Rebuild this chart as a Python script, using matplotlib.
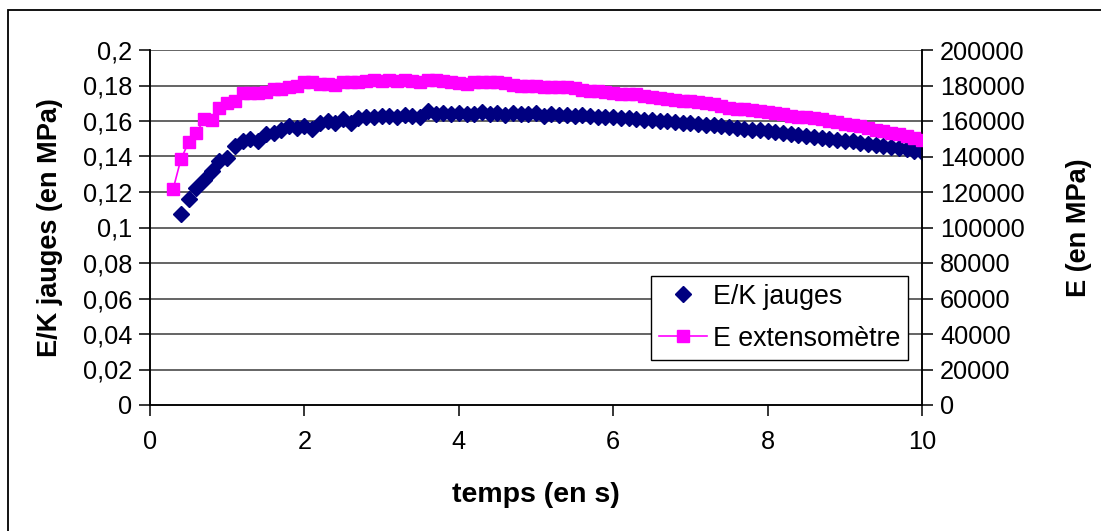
import matplotlib
matplotlib.use("Agg")
import matplotlib.pyplot as plt
from matplotlib.patches import Rectangle

plt.rcParams['font.family'] = ['Liberation Sans', 'DejaVu Sans']

# ---------------- data ----------------
t_jauges = [round(0.4 + 0.1 * i, 1) for i in range(97)]
ek_jauges = [
    0.1076, 0.1160, 0.1220, 0.1265, 0.1320, 0.1375, 0.1390, 0.1460, 0.1487, 0.1500,
    0.1490, 0.1525, 0.1535, 0.1550, 0.1570, 0.1560, 0.1572, 0.1555, 0.1587, 0.1600,
    0.1590, 0.1612, 0.1590, 0.1615, 0.1625, 0.1620, 0.1628, 0.1630, 0.1625, 0.1632,
    0.1628, 0.1622, 0.1655, 0.1640, 0.1645, 0.1640, 0.1645, 0.1642, 0.1638, 0.1650,
    0.1640, 0.1645, 0.1635, 0.1645, 0.1640, 0.1638, 0.1645, 0.1630, 0.1638, 0.1632,
    0.1635, 0.1630, 0.1632, 0.1628, 0.1625, 0.1625, 0.1620, 0.1618, 0.1615, 0.1610,
    0.1608, 0.1603, 0.1600, 0.1600, 0.1595, 0.1590, 0.1588, 0.1585, 0.1580, 0.1575,
    0.1572, 0.1565, 0.1560, 0.1555, 0.1552, 0.1548, 0.1543, 0.1538, 0.1532, 0.1528,
    0.1522, 0.1518, 0.1512, 0.1507, 0.1500, 0.1495, 0.1490, 0.1485, 0.1478, 0.1472,
    0.1465, 0.1460, 0.1453, 0.1447, 0.1440, 0.1433, 0.1427,
]
t_ext = [round(0.3 + 0.1 * i, 1) for i in range(98)]
e_ext = [
    121700, 138400, 148000, 153000, 161000, 160500, 167500, 170000, 171500, 176000,
    175500, 175500, 176500, 178000, 178000, 179000, 180000, 182000, 182000, 181000,
    181000, 180500, 182000, 182000, 182000, 182500, 183000, 182500, 183000, 182500,
    183000, 182500, 182000, 183000, 183000, 182500, 182000, 181500, 181000, 182000,
    182000, 182000, 182000, 181500, 180500, 180000, 180000, 179500, 179000, 179000,
    179000, 179000, 178500, 177500, 177000, 177000, 176500, 175500, 175000, 175000,
    175000, 174000, 173500, 173000, 172500, 172000, 171500, 171000, 170500, 170000,
    169500, 168500, 167500, 167000, 166500, 166000, 165500, 165000, 164500, 164000,
    163000, 162500, 162000, 161500, 161000, 160000, 159500, 158500, 158000, 157000,
    156000, 155000, 154500, 153500, 152500, 151500, 150500, 149500,
]
x_ticks = [0, 2, 4, 6, 8, 10]
left_ticks = [0, 0.02, 0.04, 0.06, 0.08, 0.10, 0.12, 0.14, 0.16, 0.18, 0.20]
left_tick_labels = ["0", "0,02", "0,04", "0,06", "0,08", "0,1", "0,12", "0,14",
                    "0,16", "0,18", "0,2"]
right_ticks = [0, 20000, 40000, 60000, 80000, 100000, 120000, 140000, 160000,
               180000, 200000]
right_tick_labels = [str(v) for v in right_ticks]
series_names = ["E/K jauges", "E extensomètre"]
x_label = "temps (en s)"
left_label = "E/K jauges (en MPa)"
right_label = "E (en MPa)"

# ---------------- figure ----------------
W, H = 1101, 531
fig = plt.figure(figsize=(W / 100, H / 100), dpi=100)
ax = fig.add_axes([150 / W, 1 - 405 / H, (922 - 150) / W, (405 - 50) / H])
ax2 = ax.twinx()

FS = 18.3
NAVY = "#000080"
MAG = "#FF00FF"

ax.set_xlim(0, 10)
ax.set_ylim(0, 0.2)
ax2.set_ylim(0, 200000)

for y in left_ticks[1:]:
    ax.axhline(y, color="#3a3a3a", lw=1.1, zorder=0)

h1, = ax.plot(t_jauges, ek_jauges, linestyle="none", marker="D", markersize=8.5,
              color=NAVY, markeredgecolor=NAVY, zorder=3)
h2, = ax2.plot(t_ext, e_ext, linestyle="-", lw=1.2, marker="s", markersize=9,
               color=MAG, markeredgecolor=MAG, zorder=3)

ax.set_xticks(x_ticks)
ax.set_xticklabels([str(v) for v in x_ticks])
ax.set_yticks(left_ticks)
ax.set_yticklabels(left_tick_labels)
ax2.set_yticks(right_ticks)
ax2.set_yticklabels(right_tick_labels)

for a in (ax, ax2):
    a.tick_params(axis="both", direction="out", length=8, width=1.1,
                  labelsize=FS, colors="black", pad=5)
    a.spines["top"].set_visible(False)
    for s in ("left", "right", "bottom"):
        a.spines[s].set_linewidth(1.1)
        a.spines[s].set_color("black")
ax.tick_params(axis="x", pad=10)

ax.set_xlabel(x_label, fontsize=20.5, fontweight="bold", labelpad=20)
ax.set_ylabel(left_label, fontsize=19.5, fontweight="bold", labelpad=14)
ax2.set_ylabel(right_label, fontsize=19.5, fontweight="bold", labelpad=30,
               rotation=90)

leg = ax2.legend([h1, h2], series_names, loc="lower right",
                 bbox_to_anchor=(0.982, 0.127), fontsize=19.3, frameon=True,
                 fancybox=False, edgecolor="black", framealpha=1,
                 borderpad=0.3, labelspacing=0.6, handlelength=1.8,
                 handletextpad=0.2, borderaxespad=0)
leg.get_frame().set_linewidth(1.0)
leg.set_zorder(10)

# outer chart-area frame (top and left edges visible)
fig.add_artist(Rectangle((8 / W, -0.2), 1.5, 1.2 - 10 / H, transform=fig.transFigure,
                         fill=False, edgecolor="black", lw=1.3, clip_on=False))

fig.savefig("out.png", dpi=100)
